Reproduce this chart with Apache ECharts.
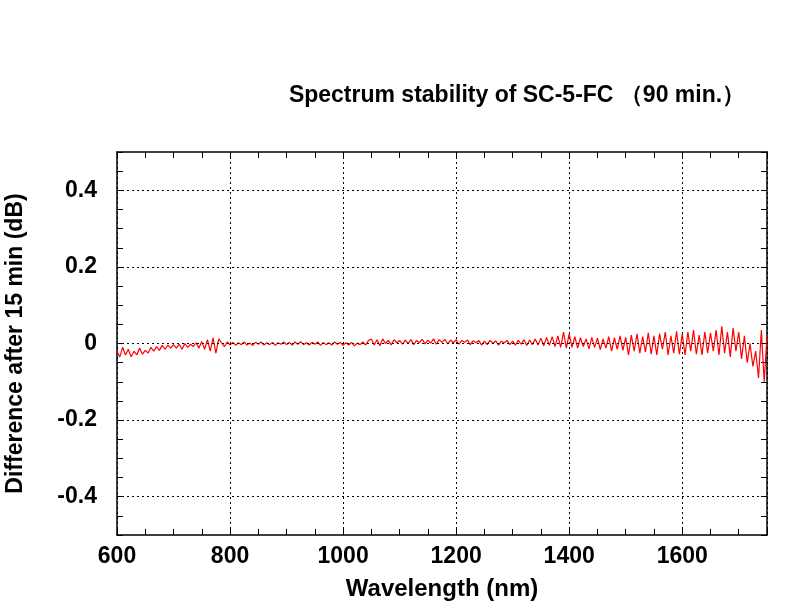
<!DOCTYPE html>
<html>
<head>
<meta charset="utf-8">
<script src="https://cdn.jsdelivr.net/npm/echarts@6/dist/echarts.min.js"></script>
<style>html,body{margin:0;padding:0;background:#fff}#chart{width:795px;height:610px}</style>
</head>
<body>
<div id="chart"></div>
<script>
// wavelength starts at 600 nm, step 5 nm
const startNm = 600;
const stepNm = 5;
const diffValues = [
  -0.02,-0.035,-0.01,-0.03,-0.015,-0.035,-0.02,-0.03,-0.012,-0.028,
  -0.018,-0.025,-0.01,-0.02,-0.008,-0.018,-0.005,-0.015,-0.004,-0.012,
  -0.003,-0.012,-0.002,-0.015,0.0,-0.01,-0.002,-0.008,0.002,-0.012,
  0.005,-0.015,0.01,-0.02,0.015,-0.025,0.012,0.002,-0.008,0.004,
  -0.004,0.003,-0.005,0.002,-0.003,0.004,-0.004,0.001,-0.005,0.003,
  -0.002,0.004,-0.004,0.002,-0.003,0.003,-0.005,0.002,-0.002,0.004,
  -0.003,0.003,-0.004,0.004,-0.002,0.005,-0.003,0.002,-0.004,0.003,
  -0.002,0.004,-0.005,0.003,-0.003,0.002,-0.004,0.004,-0.002,0.003,
  -0.005,0.002,-0.004,0.003,-0.006,0.001,-0.003,0.004,-0.004,0.008,
  0.012,-0.004,0.01,-0.006,0.012,0.0,0.008,-0.004,0.01,0.002,
  0.008,-0.002,0.009,0.0,0.01,-0.003,0.008,0.002,0.011,-0.001,
  0.009,0.001,0.012,-0.002,0.01,0.003,0.011,-0.001,0.009,0.002,
  0.01,-0.002,0.008,0.003,0.009,-0.003,0.007,0.002,0.008,-0.004,
  0.006,-0.003,0.008,0.0,0.007,-0.004,0.006,0.002,0.008,-0.003,
  0.006,-0.004,0.008,-0.002,0.01,-0.005,0.009,-0.003,0.012,-0.004,
  0.014,-0.006,0.016,-0.005,0.018,-0.008,0.02,-0.01,0.03,-0.012,
  0.025,-0.01,0.018,-0.012,0.015,-0.008,0.012,-0.014,0.016,-0.01,
  0.014,-0.016,0.012,-0.012,0.018,-0.02,0.015,-0.015,0.02,-0.018,
  0.016,-0.03,0.022,-0.02,0.025,-0.025,0.018,-0.022,0.028,-0.028,
  0.02,-0.03,0.025,-0.015,0.03,-0.03,0.02,-0.025,0.032,-0.028,
  0.025,-0.03,0.03,-0.02,0.035,-0.028,0.022,-0.03,0.03,-0.025,
  0.028,-0.02,0.035,-0.03,0.045,-0.025,0.03,-0.035,0.04,-0.02,
  0.03,-0.04,0.02,-0.05,0.0,-0.06,-0.02,-0.09,0.035,-0.1,
  0.02
];
const yGridLines = [-0.4, -0.2, 0, 0.2, 0.4];
const yLabels = ['-0.4', '-0.2', '0', '0.2', '0.4'];

const points = diffValues.map((v, i) => [startNm + i * stepNm, v]);
const font = 'Liberation Sans';
const dotted = { color: '#000', type: [2, 3], width: 1 };
const tickStyle = { inside: true, length: 6, lineStyle: { color: '#000' } };

const chart = echarts.init(document.getElementById('chart'));
const xBase = {
  type: 'value', min: 600, max: 1750, interval: 200,
  axisLine: { show: true, onZero: false, lineStyle: { color: '#000', width: 1.5 } },
  axisTick: tickStyle,
  minorTick: { show: true, splitNumber: 4, length: 6, lineStyle: { color: '#000' } }
};
const yBase = {
  type: 'value', min: -0.5, max: 0.5, interval: 0.1,
  axisLine: { show: true, onZero: false, lineStyle: { color: '#000', width: 1.5 } },
  axisTick: tickStyle,
  minorTick: { show: true, splitNumber: 2, length: 6, lineStyle: { color: '#000' } },
  splitLine: { show: false }
};
chart.setOption({
  animation: false,
  title: {
    text: 'Spectrum stability of SC-5-FC （90 min.）',
    left: 512, top: 79, textAlign: 'center',
    textStyle: { fontFamily: font, fontWeight: 'bold', fontSize: 23, color: '#000' }
  },
  grid: { left: 117, right: 28, top: 152, bottom: 75, containLabel: false, outerBoundsMode: 'none' },
  xAxis: [
    Object.assign({}, xBase, {
      name: 'Wavelength (nm)', nameLocation: 'middle', nameGap: 42,
      nameTextStyle: { fontFamily: font, fontWeight: 'bold', fontSize: 24, color: '#000' },
      axisLabel: { fontFamily: font, fontWeight: 'bold', fontSize: 23, color: '#000', margin: 10,
        formatter: v => (v % 200 === 0 ? String(v) : '') },
      splitLine: { show: true, lineStyle: dotted }
    }),
    Object.assign({}, xBase, { position: 'top', axisLabel: { show: false }, splitLine: { show: false } })
  ],
  yAxis: [
    Object.assign({}, yBase, {
      name: 'Difference after 15 min (dB)', nameLocation: 'middle', nameGap: 90,
      nameTextStyle: { fontFamily: font, fontWeight: 'bold', fontSize: 23, color: '#000' },
      axisLabel: { fontFamily: font, fontWeight: 'bold', fontSize: 23, color: '#000', margin: 20,
        formatter: v => {
          const i = yGridLines.findIndex(g => Math.abs(g - v) < 1e-6);
          return i >= 0 ? yLabels[i] : '';
        } }
    }),
    Object.assign({}, yBase, { position: 'right', axisLabel: { show: false } })
  ],
  series: [{
    type: 'line', data: points, showSymbol: false, symbol: 'none',
    lineStyle: { color: '#ff0000', width: 1.2 },
    z: 3,
    markLine: {
      silent: true, symbol: 'none', label: { show: false },
      lineStyle: dotted,
      data: yGridLines.map(v => ({ yAxis: v }))
    }
  }]
});
</script>
</body>
</html>
